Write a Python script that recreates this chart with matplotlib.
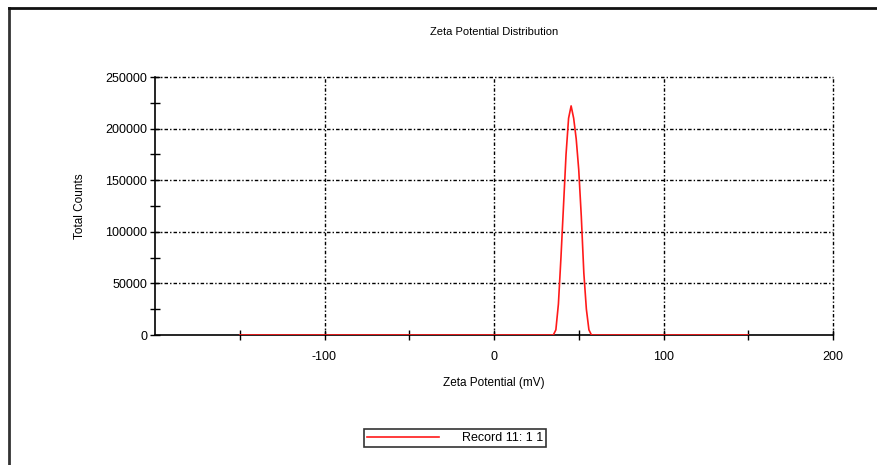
import matplotlib
matplotlib.use("Agg")
import matplotlib.pyplot as plt
from matplotlib.lines import Line2D
from matplotlib.ticker import MultipleLocator, FixedLocator

plt.rcParams['font.family'] = ['Liberation Sans', 'DejaVu Sans']

zeta_mv = [-150, 35, 36.5, 38, 39.5, 41, 42.5, 44, 45.5, 47, 48.5, 50, 51.5, 53, 54.5, 56, 57.5, 150]
counts = [0, 0, 5000, 30000, 75000, 125000, 175000, 210000, 222000, 210000, 190000, 160000,
          115000, 60000, 25000, 5000, 0, 0]
x_major = [-150, -100, -50, 0, 50, 100, 150, 200]
x_labels = {-100: "-100", 0: "0", 100: "100", 200: "200"}
y_ticks = [0, 50000, 100000, 150000, 200000, 250000]
series_name = "Record 11: 1 1"

W, H = 877, 465
fig = plt.figure(figsize=(W / 100, H / 100), dpi=100)
ax = fig.add_axes([155 / W, 1 - 335 / H, (833 - 155) / W, (335 - 77) / H])

ax.plot(zeta_mv, counts, color='#ff1a1a', lw=1.2, label=series_name, zorder=3)
ax.set_xlim(-200, 200)
ax.set_ylim(0, 250000)

ax.xaxis.set_major_locator(FixedLocator(x_major))
ax.set_xticklabels([x_labels.get(v, "") for v in x_major])
ax.yaxis.set_major_locator(FixedLocator(y_ticks))
ax.yaxis.set_minor_locator(MultipleLocator(25000))
ax.set_yticklabels([str(v) for v in y_ticks])

ax.tick_params(axis='both', which='both', direction='inout', length=7, width=1,
               labelsize=9, colors='black')
ax.tick_params(axis='x', pad=8)
ax.tick_params(axis='y', pad=2)

for s in ['top', 'right']:
    ax.spines[s].set_visible(False)
for s in ['left', 'bottom']:
    ax.spines[s].set_linewidth(1.2)

grid_style = dict(color='black', lw=1.0, ls=(0, (2.5, 1.5, 1, 1.5)), zorder=1, clip_on=False)
for v in [-100, 0, 100, 200]:
    ax.axvline(v, **grid_style)
for v in y_ticks[1:]:
    ax.axhline(v, **grid_style)

ax.set_title("Zeta Potential Distribution", fontsize=8, pad=30)
ax.set_xlabel("Zeta Potential (mV)", fontsize=8.5, labelpad=10)
ax.set_ylabel("Total Counts", fontsize=8.5, labelpad=14)

leg = fig.legend(loc='center', bbox_to_anchor=(455 / W, 1 - 438 / H), fontsize=9,
                 frameon=True, fancybox=False, handlelength=5.8, borderpad=0.25,
                 handletextpad=1.8, borderaxespad=0)
leg.get_frame().set_edgecolor('black')
leg.get_frame().set_linewidth(1.2)

fig.add_artist(Line2D([9 / W, 9 / W], [0, 1 - 8 / H], transform=fig.transFigure,
                      color='#333333', lw=2))
fig.add_artist(Line2D([9 / W, 1], [1 - 8 / H, 1 - 8 / H], transform=fig.transFigure,
                      color='#111111', lw=2))

fig.savefig("out.png", dpi=100)
